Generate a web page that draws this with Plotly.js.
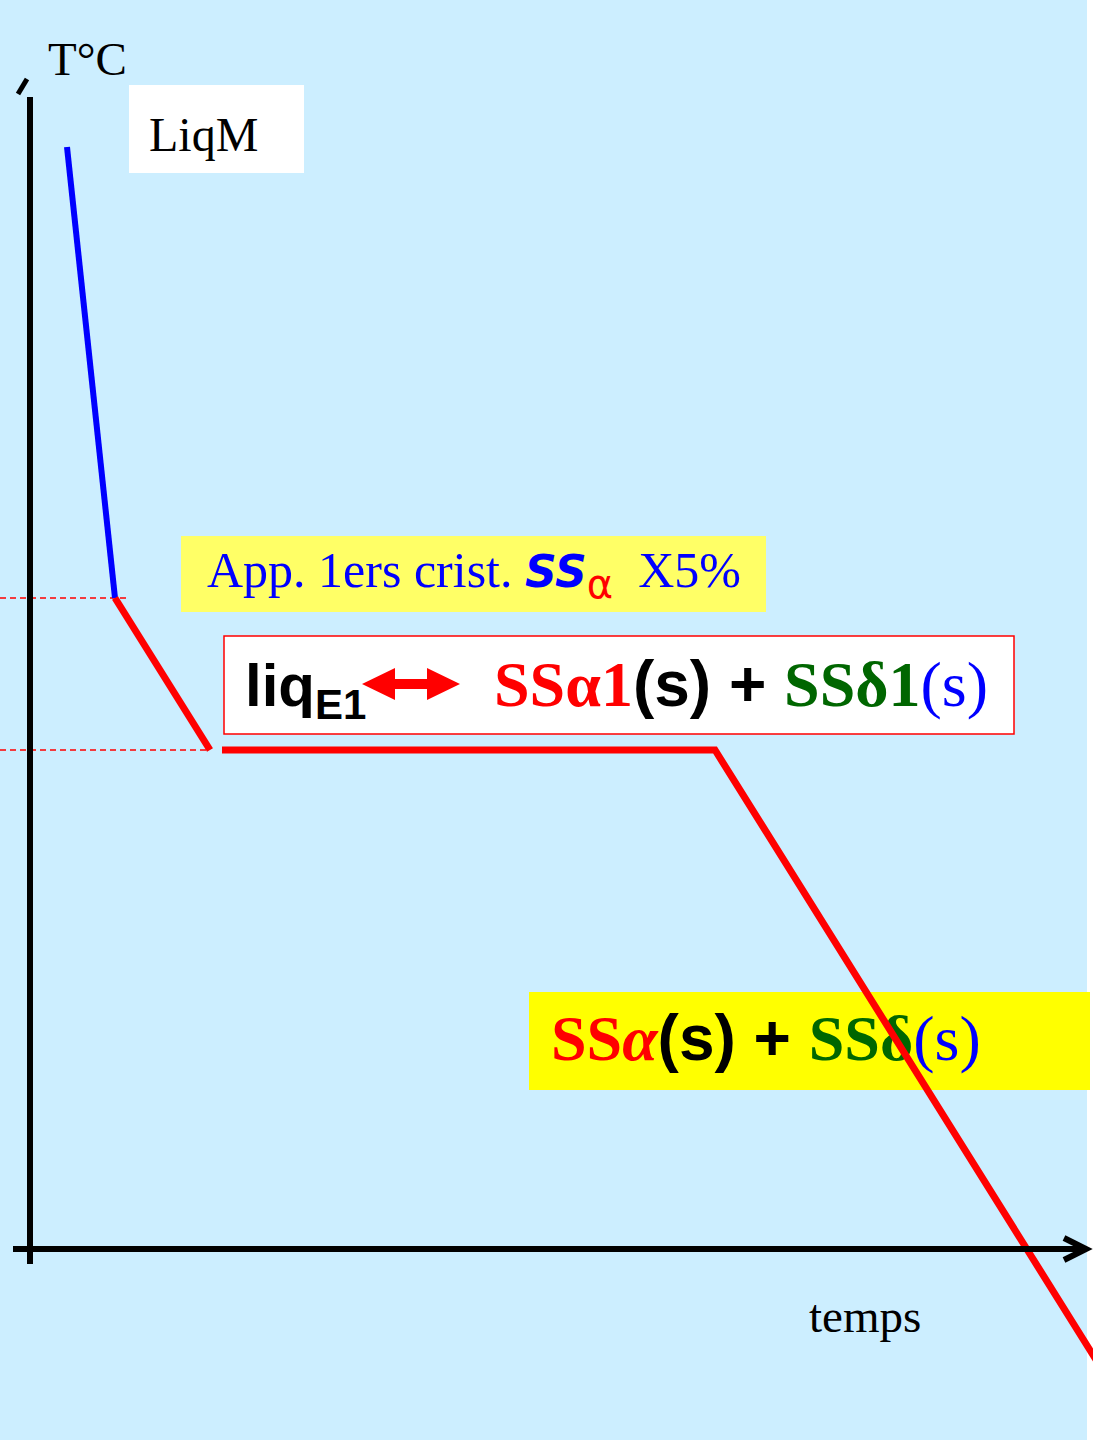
<!DOCTYPE html>
<html>
<head>
<meta charset="utf-8">
<script src="https://cdn.plot.ly/plotly-3.0.1.min.js"></script>
<style>html,body{margin:0;padding:0;background:#fff;}#chart{width:1093px;height:1440px;}</style>
</head>
<body>
<div id="chart"></div>
<script>
// Cooling curve (temps = time, T = temperature), arbitrary units
const liquidTime = [37, 85];
const liquidTemp = [1102, 651];
const primaryTime = [85, 180];
const primaryTemp = [651, 499];
const eutecticTime = [192, 685, 1068];
const eutecticTemp = [499, 499, -114];
const guideLiquidusTime = [-30, 100];
const guideLiquidusTemp = [651, 651];
const guideEutecticTime = [-30, 180];
const guideEutecticTemp = [499, 499];

const labelAxisT = 'T°C';
const labelAxisTime = 'temps';
const labelLiq = 'LiqM';

const SERIF = 'Liberation Serif';
const SANS = 'Liberation Sans';

const traces = [
  // text lying under the cooling line
  {
    x: [521], y: [205], mode: 'text', type: 'scatter', hoverinfo: 'skip',
    text: ['<b><span style="color:#ff0000">SS<i>α</i></span><span style="font-family:' + SANS + ';color:#000000">(s) + </span><span style="color:#006600">SSδ</span></b><span style="color:#0000ff">(s)</span>'],
    textposition: 'middle right',
    textfont: {family: SERIF, size: 64, color: '#ff0000'},
    showlegend: false
  },
  {x: guideLiquidusTime, y: guideLiquidusTemp, mode: 'lines', line: {color: '#ff0000', width: 1.5, dash: '6px,4px'}, hoverinfo: 'skip', showlegend: false},
  {x: guideEutecticTime, y: guideEutecticTemp, mode: 'lines', line: {color: '#ff0000', width: 1.5, dash: '6px,4px'}, hoverinfo: 'skip', showlegend: false},
  {x: liquidTime, y: liquidTemp, mode: 'lines', line: {color: '#0000ff', width: 6}, hoverinfo: 'skip', showlegend: false},
  {x: primaryTime, y: primaryTemp, mode: 'lines', line: {color: '#ff0000', width: 7}, hoverinfo: 'skip', showlegend: false},
  {x: eutecticTime, y: eutecticTemp, mode: 'lines', line: {color: '#ff0000', width: 7}, hoverinfo: 'skip', showlegend: false}
];

const shapes = [
  // light blue slide background
  {type: 'rect', xref: 'x', yref: 'y', x0: -30, x1: 1057, y0: -191, y1: 1249, fillcolor: '#cceeff', line: {width: 0}, layer: 'below'},
  // label boxes
  {type: 'rect', xref: 'x', yref: 'y', x0: 99, x1: 274, y0: 1076, y1: 1164, fillcolor: '#ffffff', line: {width: 0}, layer: 'below'},
  {type: 'rect', xref: 'x', yref: 'y', x0: 151, x1: 736, y0: 637, y1: 713, fillcolor: '#ffff66', line: {width: 0}, layer: 'below'},
  {type: 'rect', xref: 'x', yref: 'y', x0: 194, x1: 984, y0: 515, y1: 613, fillcolor: '#ffffff', line: {width: 1.5, color: '#ff0000'}, layer: 'below'},
  {type: 'rect', xref: 'x', yref: 'y', x0: 499, x1: 1060, y0: 159, y1: 257, fillcolor: '#ffff00', line: {width: 0}, layer: 'below'},
  // axes
  {type: 'line', xref: 'x', yref: 'y', x0: 0, x1: 0, y0: -15, y1: 1152, line: {color: '#000000', width: 6}},
  {type: 'line', xref: 'x', yref: 'y', x0: -12, x1: -3, y0: 1155, y1: 1170, line: {color: '#000000', width: 5}},
  {type: 'line', xref: 'x', yref: 'y', x0: -17, x1: 1055, y0: 0, y1: 0, line: {color: '#000000', width: 6}},
  {type: 'path', xref: 'x', yref: 'y', path: 'M 1034 11 L 1056 0 L 1034 -11', line: {color: '#000000', width: 6}},
  // red double arrow
  {type: 'path', xref: 'x', yref: 'y',
   path: 'M 332 565 L 365 581 L 365 570 L 397 570 L 397 581 L 430 565 L 397 549 L 397 560 L 365 560 L 365 549 Z',
   fillcolor: '#ff0000', line: {width: 0}}
];

const annotations = [
  {xref: 'x', yref: 'y', x: 16, y: 1190, xanchor: 'left', yanchor: 'middle', showarrow: false,
   text: labelAxisT, font: {family: SERIF, size: 47, color: '#000000'}},
  {xref: 'x', yref: 'y', x: 117, y: 1115, xanchor: 'left', yanchor: 'middle', showarrow: false,
   text: labelLiq, font: {family: SERIF, size: 48, color: '#000000'}},
  {xref: 'x', yref: 'y', x: 777, y: -67, xanchor: 'left', yanchor: 'middle', showarrow: false,
   text: labelAxisTime, font: {family: SERIF, size: 47, color: '#000000'}},
  {xref: 'x', yref: 'y', x: 175, y: 675, xanchor: 'left', yanchor: 'middle', showarrow: false,
   text: 'App. 1ers crist. <span style="font-family:DejaVu Sans;font-weight:bold;font-style:italic;font-size:44px">SS</span><sub><span style="color:#ff0000;font-family:DejaVu Sans;font-size:40px">α</span></sub>  X5%',
   font: {family: SERIF, size: 50, color: '#0000ff'}},
  {xref: 'x', yref: 'y', x: 213, y: 559, xanchor: 'left', yanchor: 'middle', showarrow: false,
   text: '<b>liq<sub>E1</sub></b>', font: {family: SANS, size: 60, color: '#000000'}},
  {xref: 'x', yref: 'y', x: 462, y: 565, xanchor: 'left', yanchor: 'middle', showarrow: false,
   text: '<b><span style="color:#ff0000">SSα1</span><span style="font-family:' + SANS + ';color:#000000">(s) + </span><span style="color:#006600">SSδ1</span></b><span style="color:#0000ff">(s)</span>',
   font: {family: SERIF, size: 64, color: '#ff0000'}}
];

const layout = {
  width: 1093, height: 1440, autosize: false,
  margin: {l: 0, r: 0, t: 0, b: 0, pad: 0},
  paper_bgcolor: '#ffffff', plot_bgcolor: '#ffffff',
  xaxis: {range: [-30, 1063], visible: false, fixedrange: true},
  yaxis: {range: [-191, 1249], visible: false, fixedrange: true},
  shapes: shapes, annotations: annotations, showlegend: false
};

Plotly.newPlot('chart', traces, layout, {staticPlot: true, displayModeBar: false});
</script>
</body>
</html>
